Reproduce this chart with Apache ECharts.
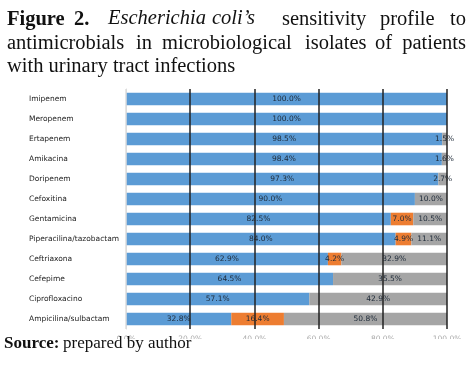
<!DOCTYPE html>
<html>
<head>
<meta charset="utf-8">
<script src="https://cdn.jsdelivr.net/npm/echarts@6/dist/echarts.min.js"></script>
<style>
  html, body { margin: 0; padding: 0; background: #fff; }
  #main { width: 475px; height: 368px; }
</style>
</head>
<body>
<div id="main"></div>
<script>
// antimicrobials, top to bottom
var categories = [
  'Imipenem', 'Meropenem', 'Ertapenem', 'Amikacina', 'Doripenem', 'Cefoxitina',
  'Gentamicina', 'Piperacilina/tazobactam', 'Ceftriaxona', 'Cefepime',
  'Ciprofloxacino', 'Ampicilina/sulbactam'
]
// % per class
var sensitive = [100.0, 100.0, 98.5, 98.4, 97.3, 90.0, 82.5, 84.0, 62.9, 64.5, 57.1, 32.8]
var intermediate = [0, 0, 0, 0, 0, 0, 7.0, 4.9, 4.2, 0, 0, 16.4]
var resistant = [0, 0, 1.5, 1.6, 2.7, 10.0, 10.5, 11.1, 32.9, 35.5, 42.9, 50.8]
var xTicks = [0, 20, 40, 60, 80, 100]

var chart = echarts.init(document.getElementById('main'))

function seg (name, data, color) {
  return {
    name: name,
    type: 'bar',
    stack: 'total',
    barWidth: '63%',
    data: data,
    itemStyle: { color: color },
    label: {
      show: true,
      position: 'inside',
      color: '#1e2a38',
      fontFamily: 'DejaVu Sans',
      fontSize: 7.5,
      formatter: function (p) {
        return p.value > 0 ? p.value.toFixed(1) + '%' : ''
      }
    }
  }
}

var option = {
  animation: false,
  grid: { left: 126, right: 28, top: 89, bottom: 39 },
  xAxis: {
    type: 'value',
    min: xTicks[0],
    max: xTicks[xTicks.length - 1],
    interval: 20,
    z: 5,
    axisLine: { show: false },
    axisTick: { show: false },
    axisLabel: {
      margin: 6,
      color: '#aaa',
      fontFamily: 'DejaVu Sans',
      fontSize: 7.5,
      formatter: function (v) { return v.toFixed(1) + '%' }
    },
    splitLine: {
      lineStyle: {
        color: ['#dcdcdc', '#222', '#222', '#222', '#222', '#222'],
        width: 1.5
      }
    }
  },
  yAxis: {
    type: 'category',
    data: categories,
    inverse: true,
    axisLine: { show: true, lineStyle: { color: '#dcdcdc' } },
    axisTick: { show: false },
    axisLabel: {
      align: 'left',
      margin: 97,
      color: '#222',
      fontFamily: 'DejaVu Sans',
      fontSize: 7.5
    }
  },
  series: [
    seg('Sensible', sensitive, '#5b9bd5'),
    seg('Intermedio', intermediate, '#ed7d31'),
    seg('Resistente', resistant, '#a5a5a5')
  ],
  graphic: [
    // caption, justified by hand
    { type: 'text', left: 7, top: 9, style: { text: 'Figure', font: 'bold 20.5px "Liberation Serif"', fill: '#111' } },
    { type: 'text', left: 74, top: 9, style: { text: '2.', font: 'bold 20.5px "Liberation Serif"', fill: '#111' } },
    { type: 'text', left: 108, top: 9, style: { text: 'Escherichia', font: 'italic 20.5px "Liberation Serif"', fill: '#111' } },
    { type: 'text', left: 212, top: 9, style: { text: 'coli\u2019s', font: 'italic 20.5px "Liberation Serif"', fill: '#111' } },
    { type: 'text', left: 282, top: 9, style: { text: 'sensitivity', font: '20.5px "Liberation Serif"', fill: '#111' } },
    { type: 'text', left: 380, top: 9, style: { text: 'profile', font: '20.5px "Liberation Serif"', fill: '#111' } },
    { type: 'text', right: 9, top: 9, style: { text: 'to', font: '20.5px "Liberation Serif"', fill: '#111' } },
    { type: 'text', left: 7, top: 33, style: { text: 'antimicrobials', font: '20.5px "Liberation Serif"', fill: '#111' } },
    { type: 'text', left: 136, top: 33, style: { text: 'in', font: '20.5px "Liberation Serif"', fill: '#111' } },
    { type: 'text', left: 162, top: 33, style: { text: 'microbiological', font: '20.5px "Liberation Serif"', fill: '#111' } },
    { type: 'text', left: 305, top: 33, style: { text: 'isolates', font: '20.5px "Liberation Serif"', fill: '#111' } },
    { type: 'text', left: 375, top: 33, style: { text: 'of', font: '20.5px "Liberation Serif"', fill: '#111' } },
    { type: 'text', right: 9, top: 33, style: { text: 'patients', font: '20.5px "Liberation Serif"', fill: '#111' } },
    { type: 'text', left: 7, top: 56, style: { text: 'with urinary tract infections', font: '20.5px "Liberation Serif"', fill: '#111' } },
    // white strip that hides the lower half of the tick labels
    { type: 'rect', left: 0, top: 339, z: 100, shape: { width: 475, height: 29 }, style: { fill: '#fff' } },
    { type: 'text', left: 4, top: 335, z: 101, style: { text: 'Source:', font: 'bold 17px "Liberation Serif"', fill: '#111' } },
    { type: 'text', left: 63, top: 335, z: 101, style: { text: 'prepared by author', font: '17px "Liberation Serif"', fill: '#111' } }
  ]
}

chart.setOption(option)
</script>
</body>
</html>
